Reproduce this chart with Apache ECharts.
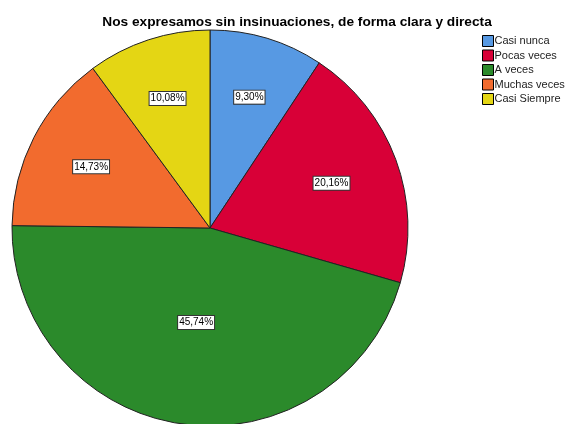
<!DOCTYPE html>
<html><head><meta charset="utf-8">
<script src="https://cdn.jsdelivr.net/npm/echarts@6/dist/echarts.min.js"></script>
<style>html,body{margin:0;padding:0;background:#fff}#c{width:568px;height:424px}</style>
</head><body><div id="c"></div>
<script>
const titleText = 'Nos expresamos sin insinuaciones, de forma clara y directa';
const categories = ['Casi nunca', 'Pocas veces', 'A veces', 'Muchas veces', 'Casi Siempre'];
const values = [9.30, 20.16, 45.74, 14.73, 10.08];
const colors = ['#5799e3', '#d80037', '#2b8a2b', '#f26b2e', '#e4d614'];

const CX = 210, CY = 228, R = 198;
const total = values.reduce((a, b) => a + b, 0);

// place each label near the centroid of its slice (as the source software does)
function centroidLabel(params) {
  const i = params.dataIndex;
  let before = 0;
  for (let k = 0; k < i; k++) before += values[k];
  const a0 = before / total * 2 * Math.PI;
  const half = values[i] / total * Math.PI;
  const mid = a0 + half;
  const d = 1.05 * 2 * R * Math.sin(half) / (3 * half);
  return {x: CX + d * Math.sin(mid), y: CY - d * Math.cos(mid)};
}

const chart = echarts.init(document.getElementById('c'), null, {renderer: 'canvas'});
chart.setOption({
  animation: false,
  color: colors,
  title: {
    text: titleText, left: 292, top: 10, textAlign: 'center',
    textStyle: {fontFamily: 'Liberation Sans', fontSize: 13.7, fontWeight: 'bold', color: '#000'}
  },
  legend: {
    orient: 'vertical', left: 482, top: 35, padding: 0,
    itemWidth: 11, itemHeight: 11, itemGap: 2.5,
    icon: 'rect', data: categories,
    itemStyle: {borderColor: '#000', borderWidth: 1},
    textStyle: {fontFamily: 'Liberation Sans', fontSize: 11, lineHeight: 11, color: '#222', padding: [0,0,0,-4]}
  },
  series: [{
    type: 'pie', center: [CX, CY], radius: R, startAngle: 90, clockwise: true,
    avoidLabelOverlap: false,
    itemStyle: {borderColor: '#222', borderWidth: 1},
    label: {
      position: 'inside', formatter: p => p.value.toFixed(2).replace('.', ',') + '%',
      fontFamily: 'Liberation Sans', fontSize: 10, color: '#000',
      backgroundColor: '#fff', borderColor: '#333', borderWidth: 1, padding: [2, 1, 1, 1]
    },
    labelLayout: centroidLabel,
    labelLine: {show: false},
    emphasis: {disabled: true},
    data: categories.map((n, i) => ({name: n, value: values[i]}))
  }]
});
</script></body></html>
